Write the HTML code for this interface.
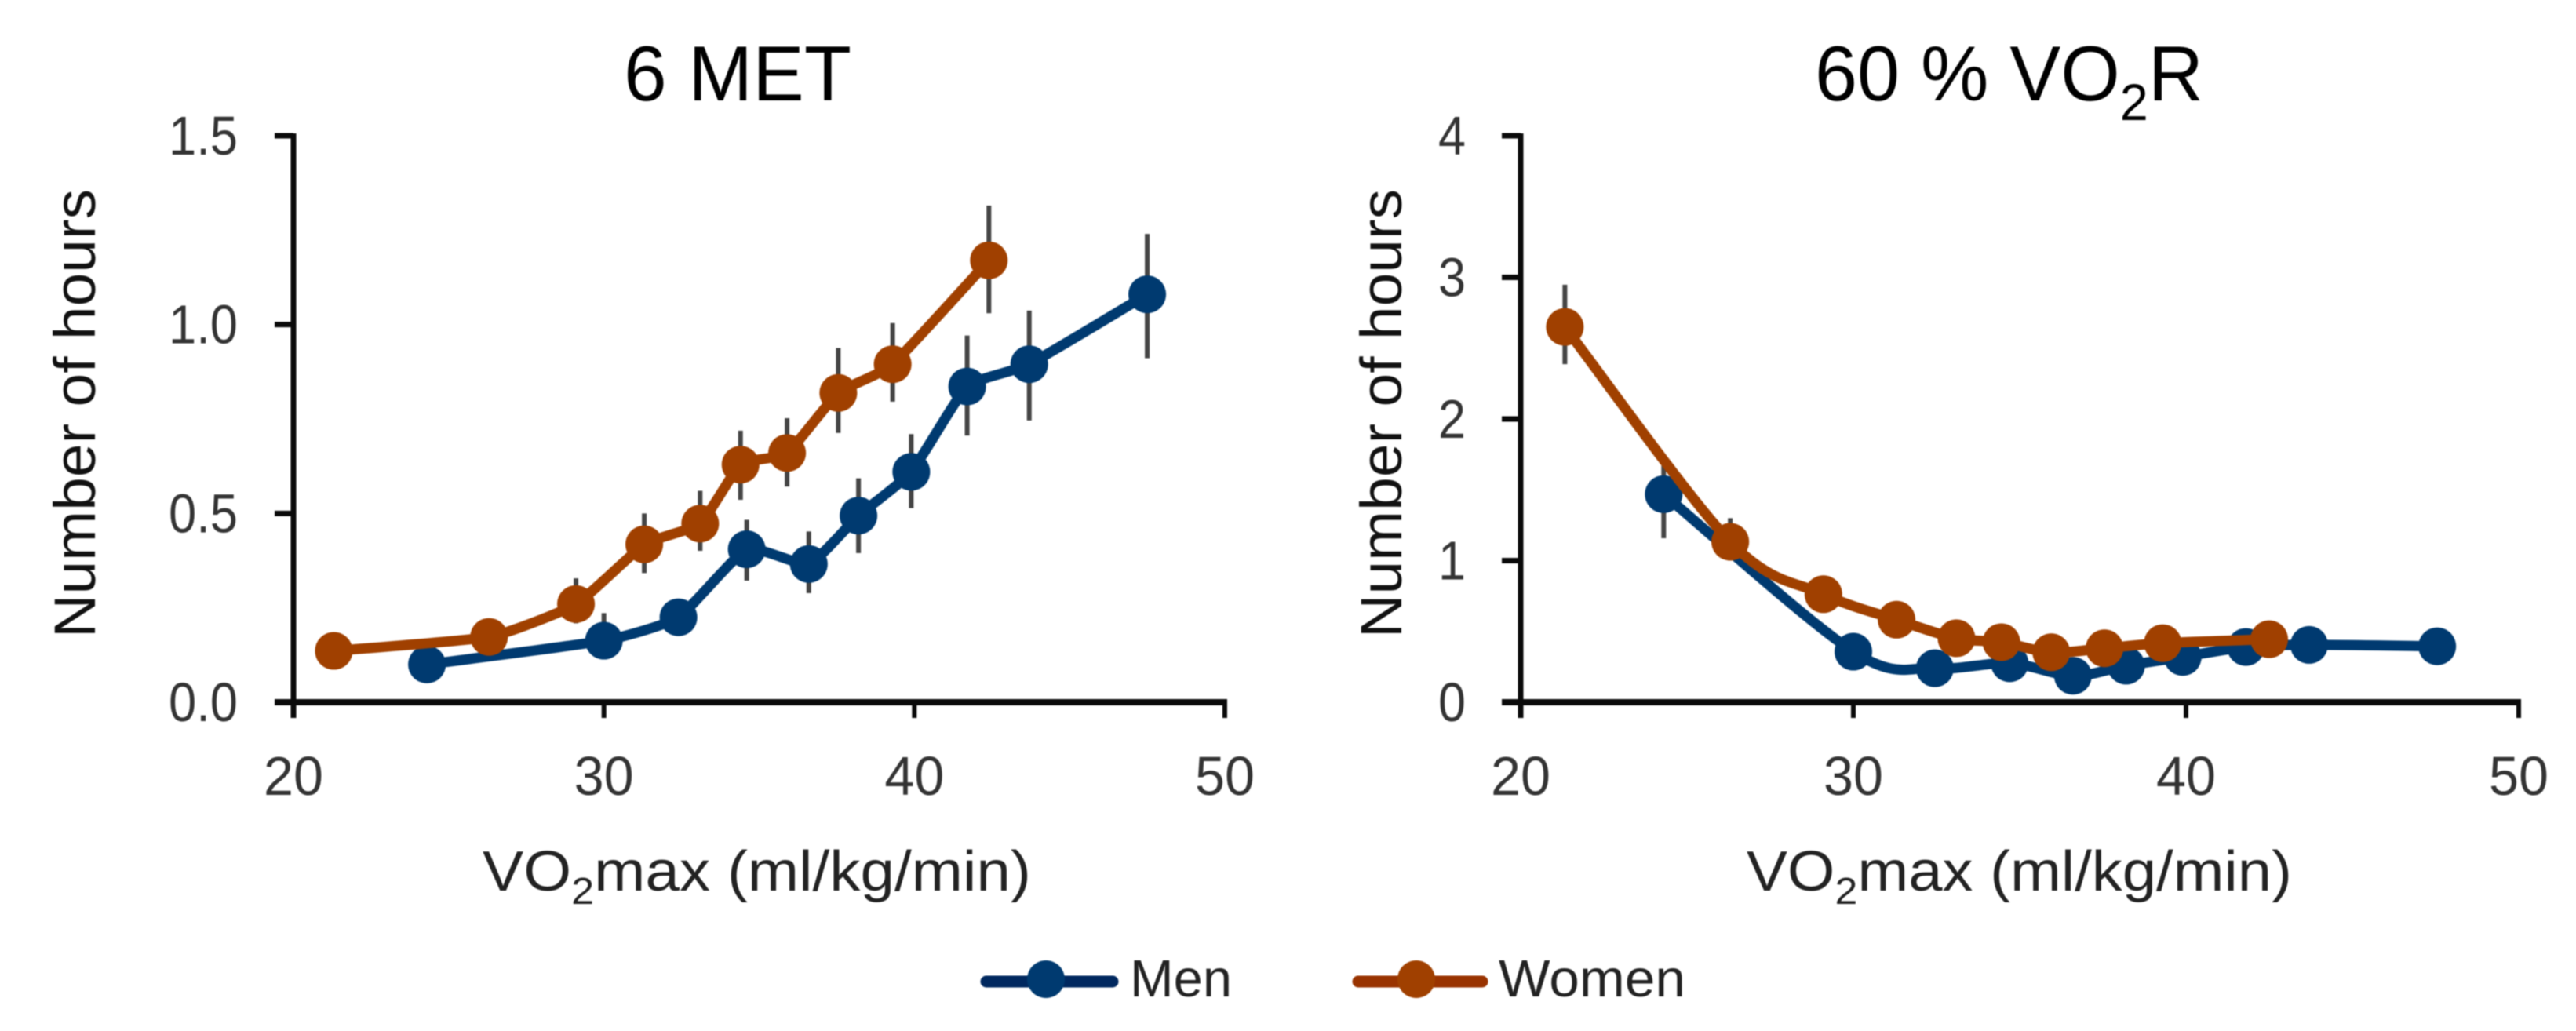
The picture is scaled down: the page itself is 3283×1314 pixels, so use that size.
<!DOCTYPE html>
<html lang="en">
<head>
<meta charset="utf-8">
<title>Hours above intensity thresholds by VO2max</title>
<style>
html,body{margin:0;padding:0;background:#fff;}
body{width:3283px;height:1314px;overflow:hidden;}
svg{display:block;font-family:"Liberation Sans",sans-serif;}
#root{filter:blur(0.9px);}
</style>
</head>
<body>
<svg id="chart" xmlns="http://www.w3.org/2000/svg" width="3283" height="1314" viewBox="0 0 3283 1314">
  <rect width="3283" height="1314" fill="#fff"/>
  <g id="root">
    <text x="795" y="128" font-size="99" fill="#000" textLength="290" lengthAdjust="spacingAndGlyphs">6 MET</text>
    <text x="2313" y="128" font-size="99" fill="#000" textLength="495" lengthAdjust="spacingAndGlyphs">60 % VO<tspan dy="25" font-size="66">2</tspan><tspan dy="-25">R</tspan></text>

    <text transform="translate(121,813) rotate(-90)" font-size="74" fill="#111" textLength="572" lengthAdjust="spacingAndGlyphs">Number of hours</text>
    <text transform="translate(1786,813) rotate(-90)" font-size="74" fill="#111" textLength="572" lengthAdjust="spacingAndGlyphs">Number of hours</text>

    <text x="615" y="1135" font-size="72" fill="#222" textLength="699" lengthAdjust="spacingAndGlyphs">VO<tspan dy="17" font-size="48">2</tspan><tspan dy="-17">max (ml/kg/min)</tspan></text>
    <text x="2226" y="1135" font-size="72" fill="#222" textLength="695" lengthAdjust="spacingAndGlyphs">VO<tspan dy="17" font-size="48">2</tspan><tspan dy="-17">max (ml/kg/min)</tspan></text>

    <g id="left-panel"></g>
    <g id="right-panel"></g>

    <g>
      <g>
        <line x1="1257" x2="1418" y1="1251" y2="1251" stroke="#00285f" stroke-width="15" stroke-linecap="round"/>
        <circle cx="1333" cy="1248" r="24" fill="#003a70"/>
        <text x="1440" y="1270" font-size="67" fill="#222" textLength="130" lengthAdjust="spacingAndGlyphs">Men</text>
      </g>
      <g>
        <line x1="1731" x2="1889" y1="1251" y2="1251" stroke="#993300" stroke-width="15" stroke-linecap="round"/>
        <circle cx="1805" cy="1248" r="24" fill="#a04000"/>
        <text x="1910" y="1270" font-size="67" fill="#222" textLength="238" lengthAdjust="spacingAndGlyphs">Women</text>
      </g>
    </g>
  </g>
</svg>
<script>
// ---- x-axis and y-axis tick labels ----
var xTicks = [20, 30, 40, 50];
var leftYTicks = ["0.0", "0.5", "1.0", "1.5"];
var rightYTicks = ["0", "1", "2", "3", "4"];

// ---- 6 MET panel: men ----
var leftMenX  = [24.3, 30.0, 32.4, 34.6, 36.6, 38.2, 39.9, 41.7, 43.7, 47.5];
var leftMenY  = [0.10, 0.163, 0.225, 0.405, 0.366, 0.494, 0.61, 0.836, 0.895, 1.08];
var leftMenLo = [0.077, 0.117, 0.176, 0.322, 0.289, 0.395, 0.514, 0.706, 0.746, 0.911];
var leftMenHi = [0.123, 0.236, 0.269, 0.483, 0.452, 0.593, 0.71, 0.971, 1.037, 1.24];

// ---- 6 MET panel: women ----
var leftWomenX  = [21.3, 26.3, 29.1, 31.3, 33.1, 34.4, 35.9, 37.55, 39.3, 42.4];
var leftWomenY  = [0.136, 0.173, 0.26, 0.418, 0.473, 0.629, 0.66, 0.819, 0.895, 1.17];
var leftWomenLo = [0.11, 0.13, 0.209, 0.342, 0.401, 0.536, 0.571, 0.713, 0.796, 1.03];
var leftWomenHi = [0.16, 0.216, 0.328, 0.50, 0.56, 0.719, 0.752, 0.938, 1.004, 1.315];

// ---- 60 % VO2R panel: men ----
var rightMenX  = [24.3, 30.0, 32.45, 34.7, 36.6, 38.2, 39.9, 41.8, 43.7, 47.55];
var rightMenY  = [1.469, 0.357, 0.24, 0.275, 0.187, 0.258, 0.32, 0.39, 0.405, 0.395];
var rightMenLo = [1.158, 0.30, 0.19, 0.22, 0.13, 0.20, 0.26, 0.33, 0.35, 0.34];
var rightMenHi = [1.688, 0.42, 0.29, 0.33, 0.24, 0.32, 0.38, 0.45, 0.46, 0.45];

// ---- 60 % VO2R panel: women ----
var rightWomenX  = [21.33, 26.3, 29.1, 31.3, 33.1, 34.45, 35.95, 37.55, 39.3, 42.5];
var rightWomenY  = [2.65, 1.133, 0.763, 0.583, 0.452, 0.424, 0.353, 0.381, 0.417, 0.445];
var rightWomenLo = [2.387, 1.0, 0.66, 0.50, 0.38, 0.36, 0.29, 0.32, 0.36, 0.39];
var rightWomenHi = [2.948, 1.30, 0.86, 0.66, 0.52, 0.49, 0.41, 0.44, 0.47, 0.50];

var SVGNS = "http://www.w3.org/2000/svg";
var BAR_COLOR = "#454545", AXIS_COLOR = "#0a0a0a", TICK_TEXT = "#333";
var MEN_COLOR = "#003a70", WOMEN_COLOR = "#a04000";

function make(tag, attrs, parent) {
  var n = document.createElementNS(SVGNS, tag);
  for (var k in attrs) n.setAttribute(k, attrs[k]);
  parent.appendChild(n);
  return n;
}

function smoothPath(pts, k) {
  var d = "M" + pts[0][0] + " " + pts[0][1];
  for (var i = 0; i < pts.length - 1; i++) {
    var p0 = pts[Math.max(i - 1, 0)], p1 = pts[i], p2 = pts[i + 1], p3 = pts[Math.min(i + 2, pts.length - 1)];
    var c1x = p1[0] + (p2[0] - p0[0]) * k, c1y = p1[1] + (p2[1] - p0[1]) * k;
    var c2x = p2[0] - (p3[0] - p1[0]) * k, c2y = p2[1] - (p3[1] - p1[1]) * k;
    d += " C" + c1x + " " + c1y + " " + c2x + " " + c2y + " " + p2[0] + " " + p2[1];
  }
  return d;
}

function drawSeries(g, prefix, sx, sy, xs, ys, los, his, color, k) {
  var i, bar, circle;
  for (i = 0; i < xs.length; i++) {
    bar = make("line", {x1: sx(xs[i]), x2: sx(xs[i]), y1: sy(los[i]), y2: sy(his[i]), stroke: BAR_COLOR, "stroke-width": 6}, g);
    
    
  }
  var pts = xs.map(function (v, j) { return [sx(v), sy(ys[j])]; });
  var path = make("path", {d: smoothPath(pts, k), fill: "none", stroke: color, "stroke-width": 13, "stroke-linejoin": "round", "stroke-linecap": "round"}, g);
  
  
  for (i = 0; i < xs.length; i++) {
    circle = make("circle", {cx: sx(xs[i]), cy: sy(ys[i]), r: 24, fill: color}, g);
    
    
  }
}

function drawPanel(id, prefix, x0, x1, yMax, yTicks, yLabelRight, yLabelWidth, k, men, women) {
  var g = document.getElementById(id);
  var y0 = 895, yTop = 173, xMin = 20, xMax = 50;
  var sx = function (v) { return x0 + (v - xMin) / (xMax - xMin) * (x1 - x0); };
  var sy = function (v) { return y0 - v / yMax * (y0 - yTop); };

  var yAxis = make("line", {x1: x0, x2: x0, y1: yTop - 3, y2: y0 + 20, stroke: AXIS_COLOR, "stroke-width": 7}, g);
  
  
  var xAxis = make("line", {x1: x0 - 24, x2: x1 + 3, y1: y0, y2: y0, stroke: AXIS_COLOR, "stroke-width": 8}, g);
  
  

  yTicks.forEach(function (label) {
    var v = parseFloat(label);
    var tick = make("line", {x1: x0 - 24, x2: x0, y1: sy(v), y2: sy(v), stroke: AXIS_COLOR, "stroke-width": 7}, g);
    
    
    var t = make("text", {x: yLabelRight - yLabelWidth, y: sy(v) + 24, "font-size": 70, fill: TICK_TEXT, textLength: yLabelWidth, lengthAdjust: "spacingAndGlyphs"}, g);
    t.textContent = label;
    
    
  });

  xTicks.forEach(function (v) {
    var tick = make("line", {x1: sx(v), x2: sx(v), y1: y0, y2: y0 + 20, stroke: AXIS_COLOR, "stroke-width": 6}, g);
    
    
    var t = make("text", {x: sx(v) - 38, y: 1013, "font-size": 70, fill: TICK_TEXT, textLength: 76, lengthAdjust: "spacingAndGlyphs"}, g);
    t.textContent = String(v);
    
    
  });

  drawSeries(g, prefix + '-men', sx, sy, men[0], men[1], men[2], men[3], MEN_COLOR, k);
  drawSeries(g, prefix + '-women', sx, sy, women[0], women[1], women[2], women[3], WOMEN_COLOR, k);
}

drawPanel("left-panel", "left", 374, 1561, 1.5, leftYTicks, 303, 88, 0.08,
  [leftMenX, leftMenY, leftMenLo, leftMenHi],
  [leftWomenX, leftWomenY, leftWomenLo, leftWomenHi]);
drawPanel("right-panel", "right", 1938, 3210, 4, rightYTicks, 1868, 35, 0.16,
  [rightMenX, rightMenY, rightMenLo, rightMenHi],
  [rightWomenX, rightWomenY, rightWomenLo, rightWomenHi]);
</script>
</body>
</html>
